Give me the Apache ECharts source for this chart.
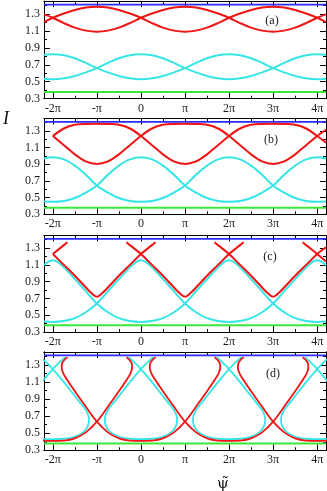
<!DOCTYPE html>
<html>
<head>
<meta charset="utf-8">
<script src="https://cdn.jsdelivr.net/npm/echarts@6/dist/echarts.min.js"></script>
<style>
  html, body { margin: 0; padding: 0; background: #fff; }
  #chart { width: 327px; height: 491px; }
</style>
</head>
<body>
<div id="chart"></div>
<script>
// phase in units of pi
const xMajor = [-2, -1, 0, 1, 2, 3, 4];
const xMinor = [-1.5, -0.5, 0.5, 1.5, 2.5, 3.5];
const yMajor = [0.3, 0.5, 0.7, 0.9, 1.1, 1.3];
const yMinor = [0.4, 0.6, 0.8, 1.0, 1.2, 1.4];
const panelNames = ["(a)", "(b)", "(c)", "(d)"];

const blueLevel = 1.41;
const greenLevel = 0.38;

const xs = [-2.2, -2, -1.75, -1.5, -1.25, -1, -0.75, -0.5, -0.25, 0, 0.25, 0.5, 0.75,
  1, 1.25, 1.5, 1.75, 2, 2.25, 2.5, 2.75, 3, 3.25, 3.5, 3.75, 4, 4.2];

// panel (a)
const redA1 = [1.204, 1.255, 1.305, 1.347, 1.375, 1.385, 1.375, 1.347, 1.305, 1.255, 1.192, 1.138, 1.103,
  1.09, 1.103, 1.138, 1.192, 1.255, 1.305, 1.347, 1.375, 1.385, 1.375, 1.347, 1.305, 1.255, 1.204];
const redA2 = [1.295, 1.255, 1.192, 1.138, 1.103, 1.09, 1.103, 1.138, 1.192, 1.255, 1.305, 1.347, 1.375,
  1.385, 1.375, 1.347, 1.305, 1.255, 1.192, 1.138, 1.103, 1.09, 1.103, 1.138, 1.192, 1.255, 1.295];
const cyanA1 = [0.536, 0.53, 0.54, 0.568, 0.61, 0.66, 0.723, 0.777, 0.812, 0.825, 0.812, 0.777, 0.723,
  0.66, 0.61, 0.568, 0.54, 0.53, 0.54, 0.568, 0.61, 0.66, 0.723, 0.777, 0.812, 0.825, 0.817];
const cyanA2 = [0.817, 0.825, 0.812, 0.777, 0.723, 0.66, 0.61, 0.568, 0.54, 0.53, 0.54, 0.568, 0.61,
  0.66, 0.723, 0.777, 0.812, 0.825, 0.812, 0.777, 0.723, 0.66, 0.61, 0.568, 0.54, 0.53, 0.536];

// panel (b)
const redB1 = [null, 1.24, 1.13, 1.02, 0.935, 0.905, 0.935, 1.02, 1.13, 1.24, 1.33, 1.375, 1.385,
  1.387, 1.385, 1.375, 1.33, 1.24, 1.13, 1.02, 0.935, 0.905, 0.935, 1.02, 1.13, 1.24, 1.315];
const redB2 = [null, 1.24, 1.33, 1.375, 1.385, 1.387, 1.385, 1.375, 1.33, 1.24, 1.13, 1.02, 0.935,
  0.905, 0.935, 1.02, 1.13, 1.24, 1.33, 1.375, 1.385, 1.387, 1.385, 1.375, 1.33, 1.24, 1.16];
const cyanB1 = [0.455, 0.45, 0.46, 0.495, 0.56, 0.645, 0.775, 0.885, 0.96, 0.985, 0.96, 0.885, 0.775,
  0.645, 0.56, 0.495, 0.46, 0.45, 0.46, 0.495, 0.56, 0.645, 0.775, 0.885, 0.96, 0.985, 0.97];
const cyanB2 = [0.97, 0.985, 0.96, 0.885, 0.775, 0.645, 0.56, 0.495, 0.46, 0.45, 0.46, 0.495, 0.56,
  0.645, 0.775, 0.885, 0.96, 0.985, 0.96, 0.885, 0.775, 0.645, 0.56, 0.495, 0.46, 0.45, 0.455];

// panel (c)
const cyanC1 = [[-2.2, 0.425], [-2, 0.42], [-1.75, 0.43], [-1.5, 0.465], [-1.25, 0.535], [-1, 0.64],
  [-0.75, 0.785], [-0.5, 0.93], [-0.25, 1.07], [-0.125, 1.13], [0, 1.155], [0.125, 1.13], [0.25, 1.07],
  [0.5, 0.93], [0.75, 0.785], [1, 0.64], [1.25, 0.535], [1.5, 0.465], [1.75, 0.43], [2, 0.42],
  [2.25, 0.43], [2.5, 0.465], [2.75, 0.535], [3, 0.64], [3.25, 0.785], [3.5, 0.93], [3.75, 1.07],
  [3.875, 1.13], [4, 1.155], [4.125, 1.13], [4.2, 1.095]];
const cyanC2 = [[-2.2, 1.095], [-2.125, 1.13], [-2, 1.155], [-1.875, 1.13], [-1.75, 1.07], [-1.5, 0.93],
  [-1.25, 0.785], [-1, 0.64], [-0.75, 0.535], [-0.5, 0.465], [-0.25, 0.43], [0, 0.42], [0.25, 0.43],
  [0.5, 0.465], [0.75, 0.535], [1, 0.64], [1.25, 0.785], [1.5, 0.93], [1.75, 1.07], [1.875, 1.13],
  [2, 1.155], [2.125, 1.13], [2.25, 1.07], [2.5, 0.93], [2.75, 0.785], [3, 0.64], [3.25, 0.535],
  [3.5, 0.465], [3.75, 0.43], [4, 0.42], [4.2, 0.425]];
const redC1 = [[-2, 1.23], [-1.75, 1.335], [-1.67, 1.37]];
const redC2 = [[-2, 1.23], [-1.75, 1.1], [-1.5, 0.97], [-1.25, 0.83], [-1.125, 0.765], [-1, 0.72],
  [-0.875, 0.765], [-0.75, 0.83], [-0.5, 0.97], [-0.25, 1.1], [0, 1.23], [0.25, 1.335], [0.33, 1.37]];
const redC3 = [[-0.33, 1.37], [-0.25, 1.335], [0, 1.23], [0.25, 1.1], [0.5, 0.97], [0.75, 0.83],
  [0.875, 0.765], [1, 0.72], [1.125, 0.765], [1.25, 0.83], [1.5, 0.97], [1.75, 1.1], [2, 1.23],
  [2.25, 1.335], [2.33, 1.37]];
const redC4 = [[1.67, 1.37], [1.75, 1.335], [2, 1.23], [2.25, 1.1], [2.5, 0.97], [2.75, 0.83],
  [2.875, 0.765], [3, 0.72], [3.125, 0.765], [3.25, 0.83], [3.5, 0.97], [3.75, 1.1], [4, 1.23], [4.2, 1.31]];
const redC5 = [[3.67, 1.37], [3.75, 1.335], [4, 1.23], [4.2, 1.14]];

// panel (d)
const redD1 = [[-2.75, 0.51], [-2.5, 0.44], [-2.25, 0.414], [-2, 0.41], [-1.75, 0.414], [-1.5, 0.44],
  [-1.25, 0.51], [-1, 0.635], [-0.75, 0.81], [-0.5, 0.99], [-0.28, 1.16], [-0.23, 1.21], [-0.2, 1.27],
  [-0.22, 1.33], [-0.33, 1.39]];
const redD2 = [[-1.67, 1.39], [-1.78, 1.33], [-1.8, 1.27], [-1.77, 1.21], [-1.72, 1.16], [-1.5, 0.99],
  [-1.25, 0.81], [-1, 0.635], [-0.75, 0.51], [-0.5, 0.44], [-0.25, 0.414], [0, 0.41], [0.25, 0.414],
  [0.5, 0.44], [0.75, 0.51], [1, 0.635], [1.25, 0.81], [1.5, 0.99], [1.72, 1.16], [1.77, 1.21],
  [1.8, 1.27], [1.78, 1.33], [1.67, 1.39]];
const redD3 = [[0.33, 1.39], [0.22, 1.33], [0.2, 1.27], [0.23, 1.21], [0.28, 1.16], [0.5, 0.99],
  [0.75, 0.81], [1, 0.635], [1.25, 0.51], [1.5, 0.44], [1.75, 0.414], [2, 0.41], [2.25, 0.414],
  [2.5, 0.44], [2.75, 0.51], [3, 0.635], [3.25, 0.81], [3.5, 0.99], [3.72, 1.16], [3.77, 1.21],
  [3.8, 1.27], [3.78, 1.33], [3.67, 1.39]];
const redD4 = [[2.33, 1.39], [2.22, 1.33], [2.2, 1.27], [2.23, 1.21], [2.28, 1.16], [2.5, 0.99],
  [2.75, 0.81], [3, 0.635], [3.25, 0.51], [3.5, 0.44], [3.75, 0.414], [4, 0.41], [4.25, 0.414], [4.5, 0.44]];
const cyanD1 = [[-1.72, 1.39], [-1.86, 1.325], [-2, 1.25], [-2.2, 1.13], [-2.4, 1.0], [-2.6, 0.87],
  [-2.75, 0.77], [-2.81, 0.7], [-2.82, 0.65], [-2.79, 0.58], [-2.7, 0.515], [-2.5, 0.458], [-2.25, 0.435],
  [-2, 0.43], [-1.75, 0.435], [-1.5, 0.458], [-1.3, 0.515], [-1.21, 0.58], [-1.18, 0.65], [-1.19, 0.7],
  [-1.25, 0.77], [-1.4, 0.87], [-1.6, 1.0], [-1.8, 1.13], [-2, 1.25], [-2.14, 1.325], [-2.28, 1.39]];
const cyanD2 = [[-0.28, 1.39], [-0.14, 1.325], [0, 1.25], [0.2, 1.13], [0.4, 1.0], [0.6, 0.87],
  [0.75, 0.77], [0.81, 0.7], [0.82, 0.65], [0.79, 0.58], [0.7, 0.515], [0.5, 0.458], [0.25, 0.435],
  [0, 0.43], [-0.25, 0.435], [-0.5, 0.458], [-0.7, 0.515], [-0.79, 0.58], [-0.82, 0.65], [-0.81, 0.7],
  [-0.75, 0.77], [-0.6, 0.87], [-0.4, 1.0], [-0.2, 1.13], [0, 1.25], [0.14, 1.325], [0.28, 1.39]];
const cyanD3 = [[1.72, 1.39], [1.86, 1.325], [2, 1.25], [2.2, 1.13], [2.4, 1.0], [2.6, 0.87],
  [2.75, 0.77], [2.81, 0.7], [2.82, 0.65], [2.79, 0.58], [2.7, 0.515], [2.5, 0.458], [2.25, 0.435],
  [2, 0.43], [1.75, 0.435], [1.5, 0.458], [1.3, 0.515], [1.21, 0.58], [1.18, 0.65], [1.19, 0.7],
  [1.25, 0.77], [1.4, 0.87], [1.6, 1.0], [1.8, 1.13], [2, 1.25], [2.14, 1.325], [2.28, 1.39]];
const cyanD4 = [[3.72, 1.39], [3.86, 1.325], [4, 1.25], [4.2, 1.13], [4.4, 1.0], [4.6, 0.87],
  [4.75, 0.77], [4.81, 0.7], [4.82, 0.65], [4.79, 0.58], [4.7, 0.515], [4.5, 0.458], [4.25, 0.435],
  [4, 0.43], [3.75, 0.435], [3.5, 0.458], [3.3, 0.515], [3.21, 0.58], [3.18, 0.65], [3.19, 0.7],
  [3.25, 0.77], [3.4, 0.87], [3.6, 1.0], [3.8, 1.13], [4, 1.25], [4.14, 1.325], [4.28, 1.39]];

const RED = "#f01414";
const CYAN = "#36e6e6";
const BLUE = "#2b2bff";
const GREEN = "#3ae83a";
const font = "Liberation Serif";

const panelTop = [1.2, 118.5, 235.5, 352];
const panelBottom = [98.7, 214.3, 332, 450.3];

function piLabel(v) {
  if (v === 0) return "0";
  if (v === 1) return "π";
  if (v === -1) return "-π";
  return v + "π";
}

function pairs(ys) {
  let out = [];
  ys.forEach((y, k) => { if (y !== null) out.push([xs[k], y]); });
  return out;
}

function xAxis(i, pos, ticks, len, labels) {
  return {
    type: "value", gridIndex: i, position: pos, min: -2.2, max: 4.2,
    axisLine: { show: true, onZero: false, lineStyle: { color: "#000", width: 1 } },
    axisTick: { show: true, inside: true, length: len, customValues: ticks, lineStyle: { color: "#000", width: 1 } },
    axisLabel: { show: labels, customValues: ticks, margin: 4, fontFamily: font, fontSize: 12, color: "#1a1a1a", formatter: piLabel },
    splitLine: { show: false },
  };
}

function yAxis(i, pos, ticks, len, labels) {
  return {
    type: "value", gridIndex: i, position: pos, min: 0.3, max: 1.45,
    axisLine: { show: true, onZero: false, lineStyle: { color: "#000", width: 1 } },
    axisTick: { show: true, inside: true, length: len, customValues: ticks, lineStyle: { color: "#000", width: 1 } },
    axisLabel: { show: labels, customValues: ticks, margin: 4, fontFamily: font, fontSize: 12, color: "#1a1a1a",
      formatter: (v) => v.toFixed(1) },
    splitLine: { show: false },
  };
}

let grids = [], xAxes = [], yAxes = [], series = [];
panelTop.forEach((top, i) => {
  grids.push({ left: 44, right: 1, top: top, height: panelBottom[i] - top });
  xAxes.push(xAxis(i, "bottom", xMajor, 6, true));
  xAxes.push(xAxis(i, "bottom", xMinor, 3, false));
  xAxes.push(xAxis(i, "top", xMajor, 6, false));
  xAxes.push(xAxis(i, "top", xMinor, 3, false));
  yAxes.push(yAxis(i, "left", yMajor, 6, true));
  yAxes.push(yAxis(i, "left", yMinor, 3, false));
  yAxes.push(yAxis(i, "right", yMajor, 6, false));
  yAxes.push(yAxis(i, "right", yMinor, 3, false));
});

function line(i, data, color, width, z) {
  series.push({
    type: "line", xAxisIndex: i * 4, yAxisIndex: i * 4, data: data,
    symbol: "none", smooth: 0.35, clip: true, silent: true, z: z || 2,
    lineStyle: { color: color, width: width },
  });
}

for (let i = 0; i < 4; i++) {
  line(i, [[-2.2, blueLevel], [4.2, blueLevel]], BLUE, 1.6, 1);
  line(i, [[-2.2, greenLevel], [4.2, greenLevel]], GREEN, 2, 1);
}
line(0, pairs(cyanA1), CYAN, 2);
line(0, pairs(cyanA2), CYAN, 2);
line(0, pairs(redA1), RED, 2, 3);
line(0, pairs(redA2), RED, 2, 3);
line(1, pairs(cyanB1), CYAN, 2);
line(1, pairs(cyanB2), CYAN, 2);
line(1, pairs(redB1), RED, 2, 3);
line(1, pairs(redB2), RED, 2, 3);
[cyanC1, cyanC2].forEach((d) => line(2, d, CYAN, 2));
[redC1, redC2, redC3, redC4, redC5].forEach((d) => line(2, d, RED, 2, 3));
[cyanD1, cyanD2, cyanD3, cyanD4].forEach((d) => line(3, d, CYAN, 1.8));
[redD1, redD2, redD3, redD4].forEach((d) => line(3, d, RED, 1.8, 3));

const letterPos = [[272, 21], [271, 140], [270, 257], [273, 374]];
let graphics = panelNames.map((t, i) => ({
  type: "text", x: letterPos[i][0], y: letterPos[i][1],
  style: { text: t, fontFamily: font, fontSize: 12, fill: "#1a1a1a", align: "center", verticalAlign: "middle" },
}));
graphics.push({
  type: "text", x: 6, y: 119,
  style: { text: "I", fontFamily: font, fontStyle: "italic", fontSize: 18, fill: "#111", align: "center", verticalAlign: "middle" },
});
graphics.push({
  type: "text", x: 223, y: 484,
  style: { text: "ψ\u0303", fontFamily: "DejaVu Serif", fontSize: 15, fill: "#111", align: "center", verticalAlign: "middle" },
});

const chart = echarts.init(document.getElementById("chart"));
chart.setOption({
  animation: false,
  backgroundColor: "#fff",
  grid: grids,
  xAxis: xAxes,
  yAxis: yAxes,
  series: series,
  graphic: graphics,
});
</script>
</body>
</html>
